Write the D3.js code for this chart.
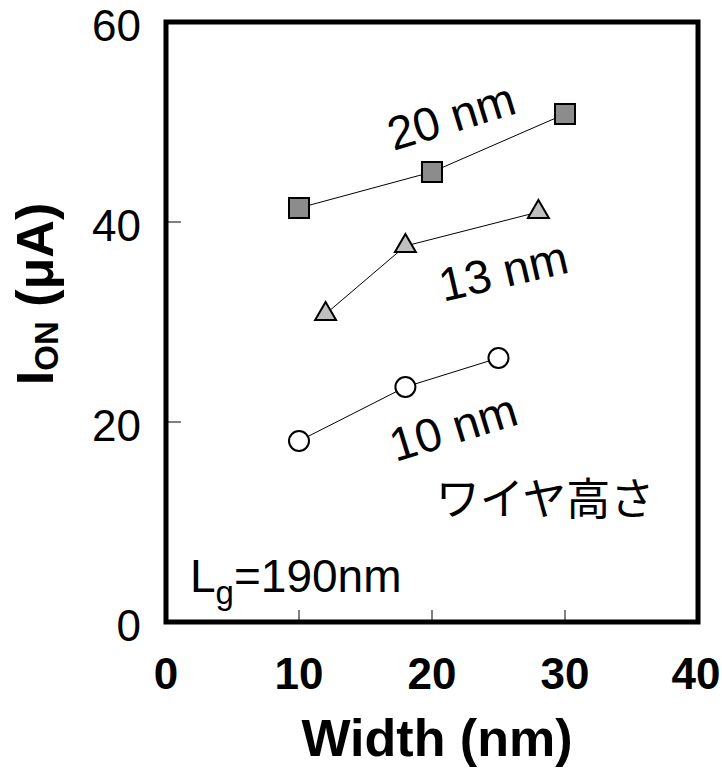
<!DOCTYPE html>
<html>
<head>
<meta charset="utf-8">
<script src="https://cdn.jsdelivr.net/npm/d3@7"></script>
<style>
  body { margin: 0; background: #fff; }
  svg { display: block; font-family: Arial, "Liberation Sans", sans-serif; }
</style>
</head>
<body>
<svg width="722" height="774"></svg>
<script>
// data
const wire20 = [ {w: 10, ion: 41.4}, {w: 20, ion: 45.0}, {w: 30, ion: 50.8} ];
const wire13 = [ {w: 12, ion: 30.8}, {w: 18, ion: 37.6}, {w: 28, ion: 41.0} ];
const wire10 = [ {w: 10, ion: 18.1}, {w: 18, ion: 23.5}, {w: 25, ion: 26.4} ];
const xTicks = [0, 10, 20, 30, 40];
const yTicks = [0, 20, 40, 60];

const svg = d3.select('svg');

const plotL = 166, plotR = 698, plotT = 22, plotB = 622;

const x = d3.scaleLinear().domain([0, 40]).range([plotL, plotR]);
const y = d3.scaleLinear().domain([0, 60]).range([plotB, plotT]);

// inner ticks
svg.append('g')
    .selectAll('line')
    .data(yTicks.filter(d => d > 0 && d < 60))
    .enter()
    .append('line')
    .attr('x1', plotL).attr('x2', plotL + 15)
    .attr('y1', d => y(d)).attr('y2', d => y(d))
    .attr('stroke', '#000').attr('stroke-width', 1);

svg.append('g')
    .selectAll('line')
    .data(xTicks.filter(d => d > 0 && d < 40))
    .enter()
    .append('line')
    .attr('x1', d => x(d)).attr('x2', d => x(d))
    .attr('y1', plotB).attr('y2', plotB - 12)
    .attr('stroke', '#000').attr('stroke-width', 1);

// frame
svg.append('rect')
    .attr('x', plotL).attr('y', plotT)
    .attr('width', plotR - plotL).attr('height', plotB - plotT)
    .attr('fill', 'none')
    .attr('stroke', '#000')
    .attr('stroke-width', 5);

// tick labels
svg.append('g')
    .selectAll('text')
    .data(yTicks)
    .enter()
    .append('text')
    .attr('x', 141)
    .attr('y', d => y(d) + 19)
    .attr('text-anchor', 'end')
    .attr('font-size', 44)
    .text(d => d);

svg.append('g')
    .selectAll('text')
    .data(xTicks)
    .enter()
    .append('text')
    .attr('x', d => d === 40 ? x(d) - 2 : x(d))
    .attr('y', 689)
    .attr('text-anchor', 'middle')
    .attr('font-size', 44)
    .attr('font-weight', 'bold')
    .text(d => d);

// axis titles
svg.append('text')
    .attr('x', 437).attr('y', 756)
    .attr('text-anchor', 'middle')
    .attr('font-size', 52)
    .attr('font-weight', 'bold')
    .text('Width (nm)');

const yTitle = svg.append('text')
    .attr('transform', 'translate(53,294) rotate(-90)')
    .attr('text-anchor', 'middle')
    .attr('font-size', 52)
    .attr('font-weight', 'bold');
yTitle.append('tspan').text('I');
yTitle.append('tspan').attr('font-size', 33).attr('dy', 5).text('ON');
yTitle.append('tspan').attr('dy', -5).text(' (\u03bcA)');

// series
const line = d3.line().x(d => x(d.w)).y(d => y(d.ion));

[wire20, wire13, wire10].forEach(s => {
    svg.append('path')
        .attr('d', line(s))
        .attr('fill', 'none')
        .attr('stroke', '#000')
        .attr('stroke-width', 1);
});

svg.append('g')
    .selectAll('rect')
    .data(wire20)
    .enter()
    .append('rect')
    .attr('x', d => x(d.w) - 10)
    .attr('y', d => y(d.ion) - 10)
    .attr('width', 20).attr('height', 20)
    .attr('fill', '#8c8c8c')
    .attr('stroke', '#000').attr('stroke-width', 2);

const tri = d3.symbol().type(d3.symbolTriangle).size(190);
svg.append('g')
    .selectAll('path')
    .data(wire13)
    .enter()
    .append('path')
    .attr('d', tri)
    .attr('transform', d => `translate(${x(d.w)},${y(d.ion)})`)
    .attr('fill', '#c0c0c0')
    .attr('stroke', '#000').attr('stroke-width', 2);

svg.append('g')
    .selectAll('circle')
    .data(wire10)
    .enter()
    .append('circle')
    .attr('cx', d => x(d.w))
    .attr('cy', d => y(d.ion))
    .attr('r', 10)
    .attr('fill', '#fff')
    .attr('stroke', '#000').attr('stroke-width', 2);

// annotations
const notes = [
    {t: '20 nm', cx: 456, cy: 132, a: -17},
    {t: '13 nm', cx: 507, cy: 287, a: -13},
    {t: '10 nm', cx: 458, cy: 443, a: -17}
];
svg.append('g')
    .selectAll('text')
    .data(notes)
    .enter()
    .append('text')
    .attr('transform', d => `translate(${d.cx},${d.cy}) rotate(${d.a})`)
    .attr('text-anchor', 'middle')
    .attr('font-size', 47)
    .text(d => d.t);

svg.append('text')
    .attr('x', 545).attr('y', 515)
    .attr('text-anchor', 'middle')
    .attr('font-size', 44)
    .attr('font-family', '"Noto Sans CJK JP", sans-serif')
    .text('ワイヤ高さ');

const lg = svg.append('text')
    .attr('x', 190).attr('y', 592)
    .attr('font-size', 46);
lg.append('tspan').text('L');
lg.append('tspan').attr('font-size', 33).attr('dy', 12).text('g');
lg.append('tspan').attr('dy', -12).text('=190nm');
</script>
</body>
</html>
